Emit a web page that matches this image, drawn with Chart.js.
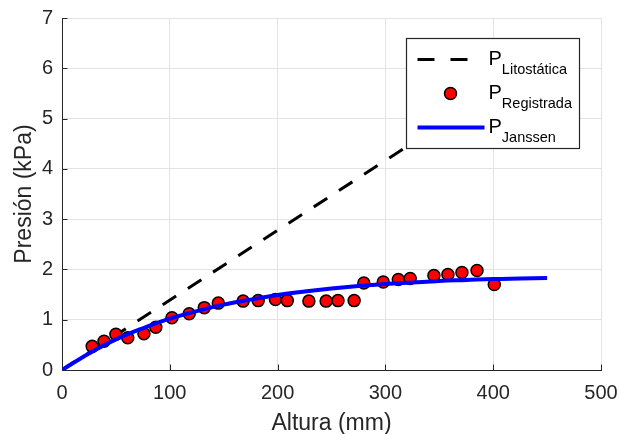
<!DOCTYPE html>
<html>
<head>
<meta charset="utf-8">
<script src="https://cdn.jsdelivr.net/npm/chart.js@4.4.1/dist/chart.umd.min.js"></script>
<style>
  html, body { margin: 0; padding: 0; background: #fff; }
  canvas { display: block; }
</style>
</head>
<body>
<canvas id="chart" width="619" height="434"></canvas>
<script>
// measured pressure (registrada)
const alturaReg = [28, 39, 50, 61, 76, 87, 102, 118, 132, 145, 168, 182, 198, 209, 229, 245, 256, 271, 280, 298, 312, 323, 345, 358, 371, 385, 401];
const presionReg = [0.47, 0.57, 0.71, 0.64, 0.72, 0.85, 1.04, 1.12, 1.24, 1.33, 1.37, 1.38, 1.40, 1.38, 1.37, 1.37, 1.38, 1.38, 1.73, 1.75, 1.80, 1.82, 1.88, 1.90, 1.94, 1.98, 1.70];

// Janssen curve
const alturaJanssen = [0, 25, 50, 75, 100, 125, 150, 175, 200, 225, 250, 275, 300, 325, 350, 375, 400, 425, 450];
const presionJanssen = [0, 0.33, 0.61, 0.83, 1.02, 1.17, 1.30, 1.40, 1.49, 1.56, 1.62, 1.67, 1.71, 1.74, 1.77, 1.79, 1.81, 1.82, 1.83];

// lithostatic line
const alturaLito = [0, 450];
const presionLito = [0, 6.25];

const xTicks = [0, 100, 200, 300, 400, 500];
const yTicks = [0, 1, 2, 3, 4, 5, 6, 7];

const legendMain = ['P', 'P', 'P'];
const legendSub = ['Litostática', 'Registrada', 'Janssen'];

const AXIS = '#262626';
const GRID = '#e3e3e3';
const FONT = '"Liberation Sans", Arial, sans-serif';

const toXY = (xs, ys) => xs.map((x, i) => ({ x, y: ys[i] }));

const matlabPlugin = {
  id: 'matlabAxes',
  beforeDatasetsDraw(chart) {
    const { ctx, chartArea } = chart;
    const { left, right, top, bottom } = chartArea;
    const xs = chart.scales.x;
    const ys = chart.scales.y;
    const tick = 5.5;

    ctx.save();
    ctx.strokeStyle = AXIS;
    ctx.lineWidth = 1;
    ctx.beginPath();
    xTicks.forEach(v => {
      const px = Math.round(xs.getPixelForValue(v)) + 0.5;
      ctx.moveTo(px, bottom);
      ctx.lineTo(px, bottom - tick);
    });
    yTicks.forEach(v => {
      const py = Math.round(ys.getPixelForValue(v)) + 0.5;
      ctx.moveTo(left, py);
      ctx.lineTo(left + tick, py);
    });
    ctx.stroke();

    // axis titles
    ctx.fillStyle = AXIS;
    ctx.font = '23px ' + FONT;
    ctx.textAlign = 'center';
    ctx.textBaseline = 'alphabetic';
    ctx.fillText('Altura (mm)', (left + right) / 2, 430);

    ctx.save();
    ctx.translate(31, (top + bottom) / 2);
    ctx.rotate(-Math.PI / 2);
    ctx.fillText('Presión (kPa)', 0, 0);
    ctx.restore();
    ctx.restore();
  },
  afterDatasetsDraw(chart) {
    const { ctx, chartArea } = chart;
    const bw = 173, bh = 110;
    const bx = Math.round(chartArea.right - 22 - bw) + 0.5;
    const by = Math.round(chartArea.top + 20) + 0.5;

    ctx.save();
    ctx.fillStyle = '#fff';
    ctx.fillRect(bx, by, bw, bh);
    ctx.strokeStyle = '#262626';
    ctx.lineWidth = 1.2;
    ctx.strokeRect(bx, by, bw, bh);

    const rows = [by + 21, by + 55, by + 89];

    // dashed sample
    ctx.strokeStyle = '#000';
    ctx.lineWidth = 3;
    ctx.setLineDash([17, 16]);
    ctx.beginPath();
    ctx.moveTo(bx + 11, rows[0]);
    ctx.lineTo(bx + 61, rows[0]);
    ctx.stroke();
    ctx.setLineDash([]);

    // marker sample
    ctx.fillStyle = '#ff0000';
    ctx.strokeStyle = '#000';
    ctx.lineWidth = 1.5;
    ctx.beginPath();
    ctx.arc(bx + 44, rows[1], 6, 0, Math.PI * 2);
    ctx.fill();
    ctx.stroke();

    // blue line sample
    ctx.strokeStyle = '#0000ff';
    ctx.lineWidth = 4;
    ctx.beginPath();
    ctx.moveTo(bx + 11, rows[2]);
    ctx.lineTo(bx + 78, rows[2]);
    ctx.stroke();

    ctx.fillStyle = '#000';
    ctx.textAlign = 'left';
    ctx.textBaseline = 'alphabetic';
    rows.forEach((ry, i) => {
      ctx.font = '20px ' + FONT;
      ctx.fillText(legendMain[i], bx + 82, ry + 5);
      const w = ctx.measureText(legendMain[i]).width;
      ctx.font = '14.5px ' + FONT;
      ctx.fillText(legendSub[i], bx + 82 + w, ry + 14);
    });
    ctx.restore();
  }
};

new Chart(document.getElementById('chart'), {
  type: 'scatter',
  data: {
    datasets: [
      {
        label: 'P Janssen',
        type: 'line',
        data: toXY(alturaJanssen, presionJanssen),
        borderColor: '#0000ff',
        borderWidth: 4,
        pointRadius: 0,
        tension: 0.4,
        fill: false,
        order: 0,
      },
      {
        label: 'P Registrada',
        data: toXY(alturaReg, presionReg),
        backgroundColor: '#ff0000',
        borderColor: '#000',
        borderWidth: 1.5,
        pointRadius: 6,
        order: 1,
      },
      {
        label: 'P Litostática',
        type: 'line',
        data: toXY(alturaLito, presionLito),
        borderColor: '#000',
        borderWidth: 3,
        borderDash: [16, 14],
        pointRadius: 0,
        fill: false,
        order: 2,
      },
    ],
  },
  options: {
    responsive: false,
    animation: false,
    devicePixelRatio: 1,
    layout: { padding: { top: 18, right: 18, left: 0, bottom: 0 } },
    scales: {
      x: {
        type: 'linear',
        min: 0,
        max: 500,
        afterFit: (s) => { s.height = 64; s.paddingLeft = 0; s.paddingRight = 0; },
        afterBuildTicks: (s) => { s.ticks = xTicks.map(v => ({ value: v })); },
        ticks: { color: AXIS, font: { family: FONT, size: 20 }, padding: 11, maxRotation: 0 },
        grid: { color: GRID, drawTicks: false },
        border: { color: AXIS, width: 1 },
      },
      y: {
        type: 'linear',
        min: 0,
        max: 7,
        afterFit: (s) => { s.width = 62; s.paddingTop = 0; s.paddingBottom = 0; },
        afterBuildTicks: (s) => { s.ticks = yTicks.map(v => ({ value: v })); },
        ticks: { color: AXIS, font: { family: FONT, size: 20 }, padding: 9 },
        grid: { color: GRID, drawTicks: false },
        border: { color: AXIS, width: 1 },
      },
    },
    plugins: {
      legend: { display: false },
      tooltip: { enabled: false },
    },
  },
  plugins: [matlabPlugin],
});
</script>
</body>
</html>
